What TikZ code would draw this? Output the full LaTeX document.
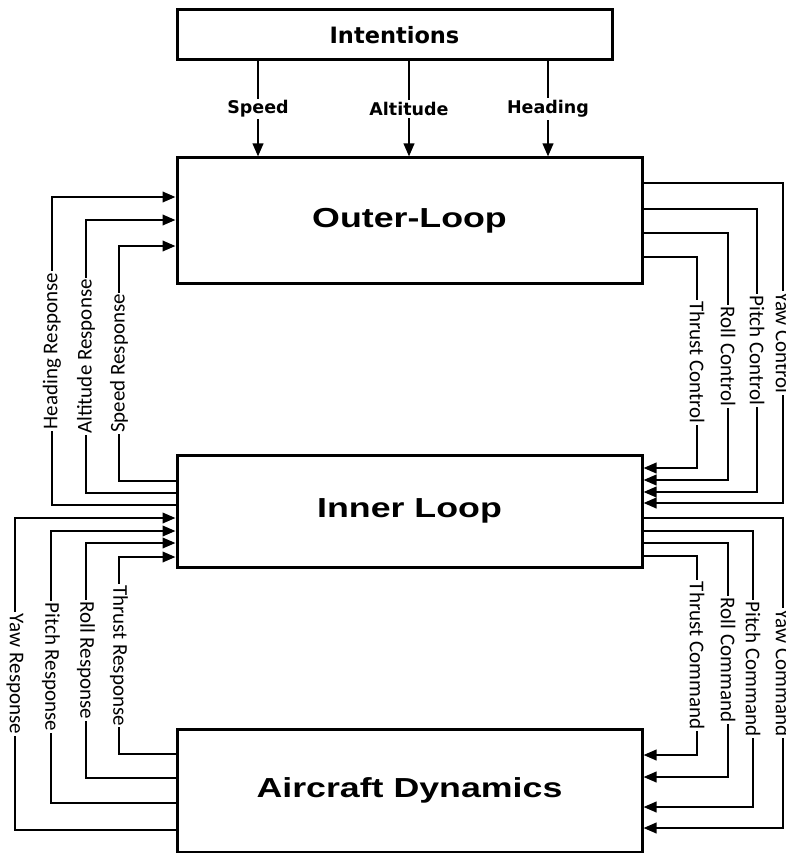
\documentclass[tikz,border=0pt]{standalone}
\usepackage{fontspec}
\newfontfamily\titlefont[FakeStretch=1.3]{Liberation Sans}
\newfontfamily\headfont{DejaVu Sans}
\newfontfamily\sidefont{Carlito}
\usepackage{tikz}
\usetikzlibrary{arrows.meta}

\begin{document}
\begin{tikzpicture}[x=1pt,y=-1pt,>={Triangle[length=13pt,width=10.5pt]},
    blk/.style={draw,line width=3pt,minimum width=465pt,inner sep=0pt,
      font=\titlefont\bfseries\fontsize{27.5}{30}\selectfont},
    sig/.style={->,line width=2.2pt},
    side/.style={fill=white,inner sep=1.5pt,font=\sidefont\fontsize{21}{23}\selectfont},
    sideup/.style={side,rotate=90},
    sidedn/.style={side,rotate=-90},
    tag/.style={fill=white,inner sep=2pt,font=\headfont\bfseries\fontsize{17.5}{19}\selectfont}]
  \useasboundingbox (0,0) rectangle (785,853);
  \node[blk,minimum width=435pt,minimum height=50pt,font=\headfont\bfseries\fontsize{22.5}{24}\selectfont] (intent) at (394.5,35) {Intentions};
  \node[blk,minimum height=125pt] (outer) at (409.5,220.5) {Outer-Loop};
  \node[blk,minimum height=112pt] (inner) at (409.5,511) {Inner Loop};
  \node[blk,minimum height=123pt] (dyn) at (409.5,790.5) {Aircraft Dynamics};
  % intentions into outer loop
  \foreach \x/\t in {258/Speed,409/Altitude,548/Heading}
    \draw[sig] (intent.south -| \x,0) -- node[tag]{\t} (outer.north -| \x,0);
  % outer loop -> inner loop
  \foreach \a/\x/\b/\t in {183/783/503/Yaw Control,209/757/492/Pitch Control,233/728/480/Roll Control,257/697/468/Thrust Control}
    \draw[sig] (outer.east |- 0,\a) -- (\x,\a) -- node[sidedn]{\t} (\x,\b) -- (inner.east |- 0,\b);
  \foreach \a/\x/\b/\t in {505/52/197/Heading Response,493/86/220/Altitude Response,481/119/246/Speed Response}
    \draw[sig] (inner.west |- 0,\a) -- (\x,\a) -- node[sideup]{\t} (\x,\b) -- (outer.west |- 0,\b);
  % inner loop -> aircraft
  \foreach \a/\x/\b/\t in {518/783/828/Yaw Command,531/753/807/Pitch Command,543/728/777/Roll Command,556/697/755/Thrust Command}
    \draw[sig] (inner.east |- 0,\a) -- (\x,\a) -- node[sidedn]{\t} (\x,\b) -- (dyn.east |- 0,\b);
  \foreach \a/\x/\b/\t in {830/15/518/Yaw Response,803/51/531/Pitch Response,778/86/543/Roll Response,754/119/557/Thrust Response}
    \draw[sig] (dyn.west |- 0,\a) -- (\x,\a) -- node[sidedn]{\t} (\x,\b) -- (inner.west |- 0,\b);
\end{tikzpicture}
\end{document}
